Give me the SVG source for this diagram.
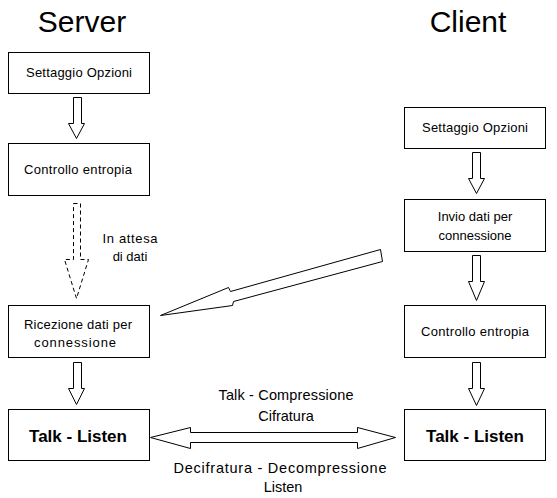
<svg xmlns="http://www.w3.org/2000/svg" width="557" height="498" viewBox="0 0 557 498">
<style>
.box{fill:#fff;stroke:#000;stroke-width:1}
.arr{fill:#fff;stroke:#000;stroke-width:1;stroke-linejoin:miter}
.dash{fill:#fff;stroke:#000;stroke-width:1;stroke-dasharray:4 3}
.t{font-family:"Liberation Sans",Arial,sans-serif;font-size:13px;fill:#000;text-anchor:middle}
.m{font-family:"Liberation Sans",Arial,sans-serif;font-size:14.5px;fill:#000;text-anchor:middle}
.tb{font-family:"Liberation Sans",Arial,sans-serif;font-size:17px;font-weight:bold;fill:#000;text-anchor:middle}
.title{font-family:"Liberation Sans",Arial,sans-serif;font-size:30px;fill:#000;text-anchor:middle}
</style>
<rect width="557" height="498" fill="#fff"/>
<text class="title" x="82" y="32">Server</text>
<text class="title" x="468" y="32">Client</text>

<g id="s-settaggio"><rect class="box" x="8.5" y="52.5" width="141" height="41"/><text class="t" x="79" y="77" textLength="106">Settaggio Opzioni</text></g>
<g id="s-controllo"><rect class="box" x="8.5" y="143.5" width="141" height="52"/><text class="t" x="78" y="174" textLength="108">Controllo entropia</text></g>
<g id="s-ricezione"><rect class="box" x="8.5" y="305.5" width="141" height="52"/><text class="t" x="78" y="329" textLength="108">Ricezione dati per</text><text class="t" x="75" y="347" textLength="82">connessione</text></g>
<g id="s-talk"><rect class="box" x="8.5" y="409.5" width="141" height="51"/><text class="tb" x="78" y="442">Talk - Listen</text></g>

<g id="c-settaggio"><rect class="box" x="404.5" y="107.5" width="141" height="41"/><text class="t" x="475" y="132" textLength="106">Settaggio Opzioni</text></g>
<g id="c-invio"><rect class="box" x="404.5" y="199.5" width="141" height="52"/><text class="t" x="475" y="221">Invio dati per</text><text class="t" x="475" y="240">connessione</text></g>
<g id="c-controllo"><rect class="box" x="404.5" y="305.5" width="141" height="52"/><text class="t" x="475" y="336" textLength="108">Controllo entropia</text></g>
<g id="c-talk"><rect class="box" x="404.5" y="409.5" width="141" height="51"/><text class="tb" x="475" y="442">Talk - Listen</text></g>

<g id="connectors">
<polygon class="arr" points="73.5,97.5 81.5,97.5 81.5,123.5 84.5,123.5 76.5,138.5 68.5,123.5 73.5,123.5"/>
<polygon class="dash" points="73.5,203.5 80.5,203.5 80.5,259.5 88.5,259.5 76.5,298.5 64.5,259.5 73.5,259.5"/>
<polygon class="arr" points="73.5,362.5 81.5,362.5 81.5,388.5 84.5,388.5 76.5,404.5 68.5,388.5 73.5,388.5"/>
<polygon class="arr" points="472.5,152.5 480.5,152.5 480.5,178.5 484.5,178.5 476.5,193.5 468.5,178.5 472.5,178.5"/>
<polygon class="arr" points="472.5,255.5 480.5,255.5 480.5,281.5 484.5,281.5 476.5,300.5 468.5,281.5 472.5,281.5"/>
<polygon class="arr" points="472.5,362.5 480.5,362.5 480.5,388.5 484.5,388.5 476.5,405.5 468.5,388.5 472.5,388.5"/>
<polygon class="arr" points="160.5,315.5 228.5,287.5 230.5,291.5 380.5,249.5 382.5,261.5 233.5,301.5 232.5,305.5"/>
<polygon class="arr" points="150.5,437.5 190.5,427.5 190.5,432.5 357.5,432.5 357.5,427.5 395.5,437.5 357.5,448.5 357.5,442.5 190.5,442.5 190.5,448.5"/>
</g>
<text class="t" x="130" y="243" textLength="55">In attesa</text>
<text class="t" x="130" y="261">di dati</text>
<text class="m" x="286" y="400" textLength="135">Talk - Compressione</text>
<text class="m" x="286" y="421">Cifratura</text>
<text class="m" x="280" y="473" textLength="213">Decifratura - Decompressione</text>
<text class="m" x="283" y="492">Listen</text>
</svg>
